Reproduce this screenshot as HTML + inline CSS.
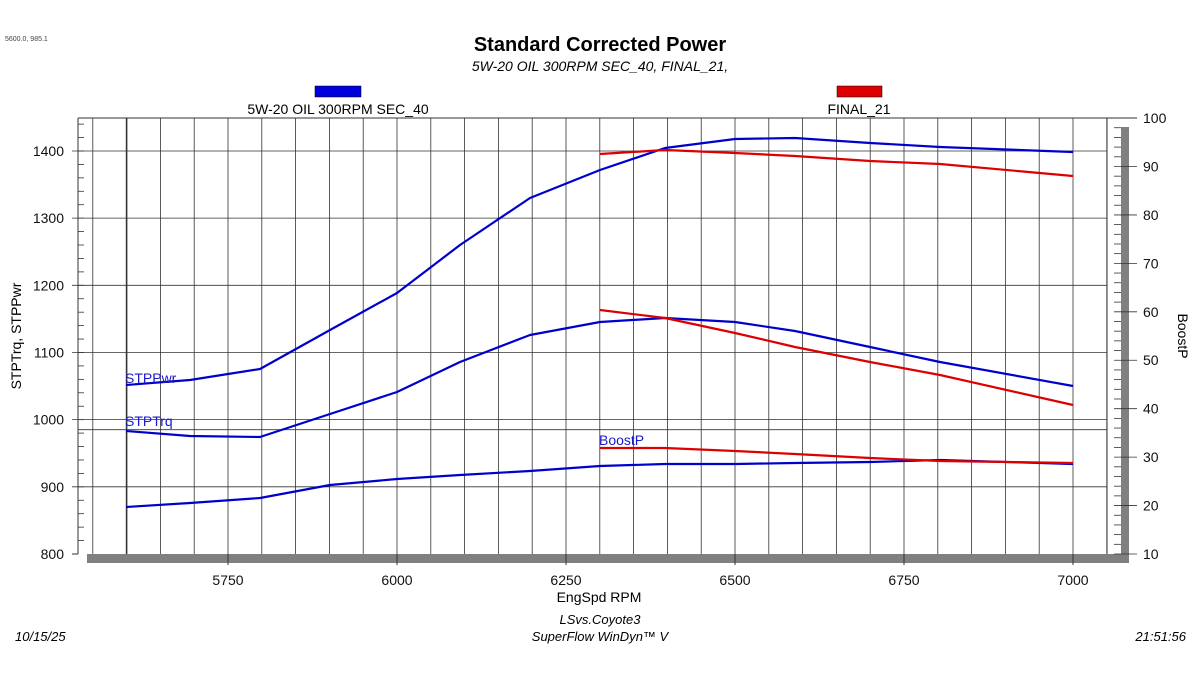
<!DOCTYPE html><html><head><style>body{margin:0;background:#fff}svg{display:block;font-family:"Liberation Sans",Arial,sans-serif}</style></head><body>
<svg width="1200" height="675" viewBox="0 0 1200 675" xmlns="http://www.w3.org/2000/svg">
<text x="5" y="41" font-size="7" fill="#444">5600.0, 985.1</text>
<text x="600" y="51" font-size="20" font-weight="bold" text-anchor="middle">Standard Corrected Power</text>
<text x="600" y="71" font-size="14" font-style="italic" text-anchor="middle">5W-20 OIL 300RPM SEC_40, FINAL_21,</text>
<rect x="315" y="86" width="46" height="11" fill="#0000dd" stroke="#000" stroke-width="0.5"/>
<text x="338" y="114" font-size="14" text-anchor="middle">5W-20 OIL 300RPM SEC_40</text>
<rect x="837" y="86" width="45" height="11" fill="#dd0000" stroke="#000" stroke-width="0.5"/>
<text x="859" y="114" font-size="14" text-anchor="middle">FINAL_21</text>
<rect x="1121" y="127" width="8" height="436" fill="#808080"/>
<rect x="87" y="554" width="1042" height="9" fill="#808080"/>
<g id="grid" stroke="#333" stroke-width="1"></g>
<g id="ticks" stroke="#333" stroke-width="1"></g>
<g id="labels" font-size="14" fill="#111"></g>
<text transform="translate(21,336) rotate(-90)" font-size="14" text-anchor="middle">STPTrq, STPPwr</text>
<text transform="translate(1178,336) rotate(90)" font-size="14" text-anchor="middle">BoostP</text>
<text x="599" y="602" font-size="14" text-anchor="middle">EngSpd RPM</text>
<text x="600" y="624" font-size="13" font-style="italic" text-anchor="middle">LSvs.Coyote3</text>
<text x="600" y="641" font-size="13" font-style="italic" text-anchor="middle">SuperFlow WinDyn™ V</text>
<text x="15" y="641" font-size="13" font-style="italic">10/15/25</text>
<text x="1186" y="641" font-size="13" font-style="italic" text-anchor="end">21:51:56</text>
<g fill="none" stroke-width="2.2" stroke-linejoin="round">
<polyline stroke="#0000cc" points="126,385 190,380 260,369 330,330 397,293 460,245 530,198 600,170 665,148 735,139 795,138 870,143 940,147 1073,152"/>
<polyline stroke="#0000cc" points="126,431 190,436 260,437 330,414 397,392 460,362 530,335 600,322 665,318 735,322 795,331 870,347 940,362 1073,386"/>
<polyline stroke="#0000cc" points="126,507 190,503 260,498 330,485 397,479 460,475 530,471 600,466 665,464 735,464 795,463 870,462 940,460 1073,464"/>
<polyline stroke="#dd0000" points="600,154 665,150 735,153 795,156 870,161 940,164 1073,176"/>
<polyline stroke="#dd0000" points="600,310 665,318 735,333 795,347 870,362 940,375 1073,405"/>
<polyline stroke="#dd0000" points="600,448 665,448 735,451 795,454 870,458 940,461 1073,463"/>
</g>
<g font-size="14" fill="#1a1acc">
<text x="125" y="383">STPPwr</text>
<text x="125" y="426">STPTrq</text>
<text x="599" y="445">BoostP</text>
</g>
<script>
var ns="http://www.w3.org/2000/svg";
function L(g,x1,y1,x2,y2,w){var l=document.createElementNS(ns,"line");l.setAttribute("x1",x1);l.setAttribute("y1",y1);l.setAttribute("x2",x2);l.setAttribute("y2",y2);if(w)l.setAttribute("stroke-width",w);document.getElementById(g).appendChild(l);}
function T(x,y,s,a){var t=document.createElementNS(ns,"text");t.setAttribute("x",x);t.setAttribute("y",y);t.setAttribute("text-anchor",a);t.textContent=s;document.getElementById("labels").appendChild(t);}
function X(r){return 397+(r-6000)*0.676;}
function Y(v){return 554-(v-800)*0.6717;}
function YR(v){return 554-(v-10)*4.844;}
L("grid",78,118,1137,118);L("grid",78,118,78,554);L("grid",1107,118,1107,554);
for(var r=5550;r<=7050;r+=50){var x=X(r);L("grid",x,118,x,554,r==5600?1.6:0.8);}
L("grid",X(5750),554,X(5750),565);L("grid",X(6000),554,X(6000),565);L("grid",X(6250),554,X(6250),565);L("grid",X(6500),554,X(6500),565);L("grid",X(6750),554,X(6750),565);L("grid",X(7000),554,X(7000),565);
[5750,6000,6250,6500,6750,7000].forEach(function(r){T(X(r),585,r,"middle");});
for(var v=900;v<=1400;v+=100){L("grid",72,Y(v),1107,Y(v),0.8);T(64,Y(v)+5,v,"end");}
T(64,559,800,"end");L("grid",72,554,78,554);
L("grid",78,Y(985.1),1107,Y(985.1),0.8);
for(var v=820;v<=1440;v+=20)L("ticks",78,Y(v),84,Y(v),0.8);
for(var v=10;v<=100;v+=10){L("ticks",1114,YR(v),1137,YR(v),0.8);T(1143,YR(v)+5,v,"start");}
for(var v=12;v<100;v+=2)if(v%10)L("ticks",1114,YR(v),1121,YR(v),0.8);
</script>
</svg></body></html>
